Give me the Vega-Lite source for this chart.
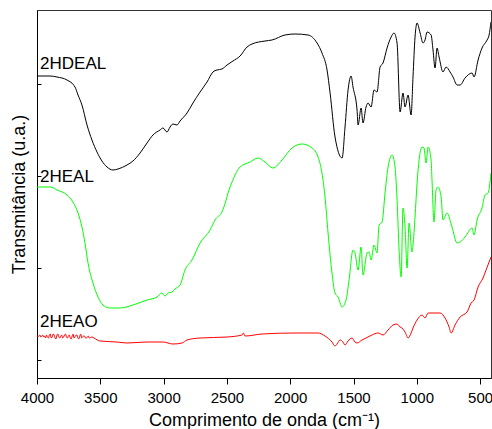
{
  "$schema": "https://vega.github.io/schema/vega-lite/v6.json",
  "width": 454,
  "height": 368,
  "autosize": {"type": "none"},
  "padding": {"left": 37, "top": 10, "right": 1, "bottom": 51},
  "background": "white",
  "config": {
    "font": "Liberation Sans",
    "view": {"stroke": "#333333", "strokeWidth": 1},
    "axis": {"grid": false, "domainColor": "#000000", "tickColor": "#000000", "labelColor": "#000000", "titleColor": "#000000", "labelFont": "Liberation Sans", "titleFont": "Liberation Sans", "titleFontWeight": "normal"}
  },
  "datasets": {
    "spectra": [
      {"series":"2HDEAL","wn":4000,"T":302},{"series":"2HDEAL","wn":3897,"T":302},{"series":"2HDEAL","wn":3842,"T":301},{"series":"2HDEAL","wn":3763,"T":298},{"series":"2HDEAL","wn":3700,"T":291},{"series":"2HDEAL","wn":3676,"T":283},{"series":"2HDEAL","wn":3645,"T":273},{"series":"2HDEAL","wn":3605,"T":253},{"series":"2HDEAL","wn":3566,"T":238},{"series":"2HDEAL","wn":3526,"T":226},{"series":"2HDEAL","wn":3487,"T":217},{"series":"2HDEAL","wn":3447,"T":211},{"series":"2HDEAL","wn":3400,"T":208},{"series":"2HDEAL","wn":3360,"T":209},{"series":"2HDEAL","wn":3289,"T":213},{"series":"2HDEAL","wn":3242,"T":217},{"series":"2HDEAL","wn":3186,"T":225},{"series":"2HDEAL","wn":3131,"T":235},{"series":"2HDEAL","wn":3084,"T":243},{"series":"2HDEAL","wn":3028,"T":248},{"series":"2HDEAL","wn":3005,"T":250},{"series":"2HDEAL","wn":2973,"T":246},{"series":"2HDEAL","wn":2949,"T":251},{"series":"2HDEAL","wn":2926,"T":254},{"series":"2HDEAL","wn":2894,"T":253},{"series":"2HDEAL","wn":2870,"T":257},{"series":"2HDEAL","wn":2815,"T":265},{"series":"2HDEAL","wn":2768,"T":275},{"series":"2HDEAL","wn":2712,"T":286},{"series":"2HDEAL","wn":2657,"T":296},{"series":"2HDEAL","wn":2610,"T":306},{"series":"2HDEAL","wn":2578,"T":308},{"series":"2HDEAL","wn":2539,"T":309},{"series":"2HDEAL","wn":2499,"T":313},{"series":"2HDEAL","wn":2452,"T":317},{"series":"2HDEAL","wn":2396,"T":322},{"series":"2HDEAL","wn":2341,"T":331},{"series":"2HDEAL","wn":2302,"T":334},{"series":"2HDEAL","wn":2199,"T":337},{"series":"2HDEAL","wn":2144,"T":338},{"series":"2HDEAL","wn":2041,"T":343},{"series":"2HDEAL","wn":1962,"T":344},{"series":"2HDEAL","wn":1859,"T":343},{"series":"2HDEAL","wn":1788,"T":335},{"series":"2HDEAL","wn":1749,"T":325},{"series":"2HDEAL","wn":1709,"T":308},{"series":"2HDEAL","wn":1685,"T":285},{"series":"2HDEAL","wn":1646,"T":241},{"series":"2HDEAL","wn":1590,"T":220},{"series":"2HDEAL","wn":1567,"T":251},{"series":"2HDEAL","wn":1543,"T":288},{"series":"2HDEAL","wn":1519,"T":302},{"series":"2HDEAL","wn":1504,"T":291},{"series":"2HDEAL","wn":1472,"T":268},{"series":"2HDEAL","wn":1464,"T":253},{"series":"2HDEAL","wn":1440,"T":270},{"series":"2HDEAL","wn":1425,"T":255},{"series":"2HDEAL","wn":1401,"T":271},{"series":"2HDEAL","wn":1385,"T":275},{"series":"2HDEAL","wn":1361,"T":271},{"series":"2HDEAL","wn":1338,"T":288},{"series":"2HDEAL","wn":1314,"T":286},{"series":"2HDEAL","wn":1290,"T":311},{"series":"2HDEAL","wn":1267,"T":315},{"series":"2HDEAL","wn":1235,"T":330},{"series":"2HDEAL","wn":1203,"T":341},{"series":"2HDEAL","wn":1180,"T":345},{"series":"2HDEAL","wn":1156,"T":335},{"series":"2HDEAL","wn":1132,"T":266},{"series":"2HDEAL","wn":1109,"T":285},{"series":"2HDEAL","wn":1093,"T":271},{"series":"2HDEAL","wn":1069,"T":283},{"series":"2HDEAL","wn":1045,"T":263},{"series":"2HDEAL","wn":1030,"T":301},{"series":"2HDEAL","wn":1014,"T":341},{"series":"2HDEAL","wn":998,"T":355},{"series":"2HDEAL","wn":974,"T":345},{"series":"2HDEAL","wn":951,"T":335},{"series":"2HDEAL","wn":935,"T":338},{"series":"2HDEAL","wn":919,"T":346},{"series":"2HDEAL","wn":887,"T":343},{"series":"2HDEAL","wn":872,"T":328},{"series":"2HDEAL","wn":856,"T":310},{"series":"2HDEAL","wn":840,"T":330},{"series":"2HDEAL","wn":824,"T":321},{"series":"2HDEAL","wn":793,"T":306},{"series":"2HDEAL","wn":769,"T":311},{"series":"2HDEAL","wn":737,"T":306},{"series":"2HDEAL","wn":714,"T":301},{"series":"2HDEAL","wn":682,"T":293},{"series":"2HDEAL","wn":658,"T":293},{"series":"2HDEAL","wn":619,"T":300},{"series":"2HDEAL","wn":563,"T":305},{"series":"2HDEAL","wn":548,"T":301},{"series":"2HDEAL","wn":516,"T":318},{"series":"2HDEAL","wn":485,"T":330},{"series":"2HDEAL","wn":445,"T":338},{"series":"2HDEAL","wn":429,"T":343},{"series":"2HDEAL","wn":414,"T":356},
      {"series":"2HEAL","wn":4000,"T":191},{"series":"2HEAL","wn":3897,"T":191},{"series":"2HEAL","wn":3842,"T":188},{"series":"2HEAL","wn":3763,"T":183},{"series":"2HEAL","wn":3716,"T":176},{"series":"2HEAL","wn":3676,"T":165},{"series":"2HEAL","wn":3645,"T":151},{"series":"2HEAL","wn":3621,"T":135},{"series":"2HEAL","wn":3597,"T":115},{"series":"2HEAL","wn":3558,"T":95},{"series":"2HEAL","wn":3518,"T":81},{"series":"2HEAL","wn":3479,"T":73},{"series":"2HEAL","wn":3423,"T":70},{"series":"2HEAL","wn":3344,"T":70},{"series":"2HEAL","wn":3242,"T":73},{"series":"2HEAL","wn":3131,"T":78},{"series":"2HEAL","wn":3052,"T":81},{"series":"2HEAL","wn":3013,"T":85},{"series":"2HEAL","wn":2989,"T":82},{"series":"2HEAL","wn":2965,"T":85},{"series":"2HEAL","wn":2934,"T":86},{"series":"2HEAL","wn":2910,"T":89},{"series":"2HEAL","wn":2870,"T":93},{"series":"2HEAL","wn":2831,"T":108},{"series":"2HEAL","wn":2776,"T":118},{"series":"2HEAL","wn":2712,"T":135},{"series":"2HEAL","wn":2633,"T":148},{"series":"2HEAL","wn":2594,"T":158},{"series":"2HEAL","wn":2539,"T":166},{"series":"2HEAL","wn":2475,"T":191},{"series":"2HEAL","wn":2396,"T":211},{"series":"2HEAL","wn":2317,"T":216},{"series":"2HEAL","wn":2254,"T":220},{"series":"2HEAL","wn":2199,"T":216},{"series":"2HEAL","wn":2136,"T":210},{"series":"2HEAL","wn":2065,"T":218},{"series":"2HEAL","wn":1986,"T":230},{"series":"2HEAL","wn":1906,"T":234},{"series":"2HEAL","wn":1828,"T":230},{"series":"2HEAL","wn":1780,"T":221},{"series":"2HEAL","wn":1749,"T":205},{"series":"2HEAL","wn":1725,"T":181},{"series":"2HEAL","wn":1701,"T":145},{"series":"2HEAL","wn":1670,"T":105},{"series":"2HEAL","wn":1646,"T":85},{"series":"2HEAL","wn":1622,"T":81},{"series":"2HEAL","wn":1590,"T":71},{"series":"2HEAL","wn":1559,"T":78},{"series":"2HEAL","wn":1535,"T":98},{"series":"2HEAL","wn":1504,"T":128},{"series":"2HEAL","wn":1488,"T":125},{"series":"2HEAL","wn":1464,"T":108},{"series":"2HEAL","wn":1440,"T":131},{"series":"2HEAL","wn":1425,"T":103},{"series":"2HEAL","wn":1393,"T":125},{"series":"2HEAL","wn":1377,"T":126},{"series":"2HEAL","wn":1361,"T":118},{"series":"2HEAL","wn":1338,"T":133},{"series":"2HEAL","wn":1314,"T":125},{"series":"2HEAL","wn":1298,"T":153},{"series":"2HEAL","wn":1274,"T":156},{"series":"2HEAL","wn":1251,"T":185},{"series":"2HEAL","wn":1227,"T":211},{"series":"2HEAL","wn":1195,"T":223},{"series":"2HEAL","wn":1172,"T":211},{"series":"2HEAL","wn":1156,"T":178},{"series":"2HEAL","wn":1140,"T":128},{"series":"2HEAL","wn":1124,"T":101},{"series":"2HEAL","wn":1109,"T":170},{"series":"2HEAL","wn":1093,"T":151},{"series":"2HEAL","wn":1077,"T":110},{"series":"2HEAL","wn":1061,"T":155},{"series":"2HEAL","wn":1038,"T":126},{"series":"2HEAL","wn":1030,"T":133},{"series":"2HEAL","wn":1014,"T":161},{"series":"2HEAL","wn":998,"T":195},{"series":"2HEAL","wn":982,"T":218},{"series":"2HEAL","wn":959,"T":231},{"series":"2HEAL","wn":943,"T":230},{"series":"2HEAL","wn":927,"T":215},{"series":"2HEAL","wn":911,"T":231},{"series":"2HEAL","wn":887,"T":218},{"series":"2HEAL","wn":880,"T":198},{"series":"2HEAL","wn":864,"T":156},{"series":"2HEAL","wn":848,"T":188},{"series":"2HEAL","wn":832,"T":191},{"series":"2HEAL","wn":808,"T":181},{"series":"2HEAL","wn":793,"T":158},{"series":"2HEAL","wn":761,"T":165},{"series":"2HEAL","wn":722,"T":151},{"series":"2HEAL","wn":682,"T":135},{"series":"2HEAL","wn":658,"T":136},{"series":"2HEAL","wn":619,"T":141},{"series":"2HEAL","wn":563,"T":150},{"series":"2HEAL","wn":548,"T":143},{"series":"2HEAL","wn":524,"T":158},{"series":"2HEAL","wn":485,"T":170},{"series":"2HEAL","wn":461,"T":183},{"series":"2HEAL","wn":437,"T":185},{"series":"2HEAL","wn":414,"T":205},
      {"series":"2HEAO","wn":4000,"T":42},{"series":"2HEAO","wn":3992,"T":41},{"series":"2HEAO","wn":3985,"T":42},{"series":"2HEAO","wn":3977,"T":43},{"series":"2HEAO","wn":3970,"T":41},{"series":"2HEAO","wn":3962,"T":42},{"series":"2HEAO","wn":3955,"T":43},{"series":"2HEAO","wn":3947,"T":41},{"series":"2HEAO","wn":3940,"T":42},{"series":"2HEAO","wn":3932,"T":40},{"series":"2HEAO","wn":3925,"T":43},{"series":"2HEAO","wn":3917,"T":41},{"series":"2HEAO","wn":3910,"T":40},{"series":"2HEAO","wn":3902,"T":43},{"series":"2HEAO","wn":3895,"T":44},{"series":"2HEAO","wn":3887,"T":40},{"series":"2HEAO","wn":3880,"T":41},{"series":"2HEAO","wn":3872,"T":44},{"series":"2HEAO","wn":3865,"T":43},{"series":"2HEAO","wn":3857,"T":40},{"series":"2HEAO","wn":3850,"T":39},{"series":"2HEAO","wn":3842,"T":43},{"series":"2HEAO","wn":3835,"T":44},{"series":"2HEAO","wn":3827,"T":41},{"series":"2HEAO","wn":3820,"T":40},{"series":"2HEAO","wn":3812,"T":42},{"series":"2HEAO","wn":3805,"T":43},{"series":"2HEAO","wn":3797,"T":40},{"series":"2HEAO","wn":3790,"T":41},{"series":"2HEAO","wn":3782,"T":43},{"series":"2HEAO","wn":3775,"T":44},{"series":"2HEAO","wn":3767,"T":41},{"series":"2HEAO","wn":3760,"T":40},{"series":"2HEAO","wn":3752,"T":42},{"series":"2HEAO","wn":3745,"T":43},{"series":"2HEAO","wn":3737,"T":40},{"series":"2HEAO","wn":3730,"T":39},{"series":"2HEAO","wn":3722,"T":42},{"series":"2HEAO","wn":3715,"T":44},{"series":"2HEAO","wn":3707,"T":40},{"series":"2HEAO","wn":3700,"T":41},{"series":"2HEAO","wn":3692,"T":43},{"series":"2HEAO","wn":3685,"T":43},{"series":"2HEAO","wn":3677,"T":40},{"series":"2HEAO","wn":3670,"T":39},{"series":"2HEAO","wn":3662,"T":42},{"series":"2HEAO","wn":3655,"T":44},{"series":"2HEAO","wn":3647,"T":40},{"series":"2HEAO","wn":3640,"T":41},{"series":"2HEAO","wn":3632,"T":42},{"series":"2HEAO","wn":3625,"T":42},{"series":"2HEAO","wn":3617,"T":40},{"series":"2HEAO","wn":3610,"T":40},{"series":"2HEAO","wn":3602,"T":41},{"series":"2HEAO","wn":3595,"T":42},{"series":"2HEAO","wn":3587,"T":40},{"series":"2HEAO","wn":3580,"T":40},{"series":"2HEAO","wn":3572,"T":41},{"series":"2HEAO","wn":3565,"T":41},{"series":"2HEAO","wn":3550,"T":40},{"series":"2HEAO","wn":3502,"T":37},{"series":"2HEAO","wn":3368,"T":36},{"series":"2HEAO","wn":3289,"T":35},{"series":"2HEAO","wn":3131,"T":36},{"series":"2HEAO","wn":3005,"T":36},{"series":"2HEAO","wn":2926,"T":34},{"series":"2HEAO","wn":2855,"T":35},{"series":"2HEAO","wn":2815,"T":38},{"series":"2HEAO","wn":2712,"T":40},{"series":"2HEAO","wn":2499,"T":41},{"series":"2HEAO","wn":2380,"T":43},{"series":"2HEAO","wn":2370,"T":45},{"series":"2HEAO","wn":2357,"T":42},{"series":"2HEAO","wn":2222,"T":44},{"series":"2HEAO","wn":1962,"T":45},{"series":"2HEAO","wn":1780,"T":45},{"series":"2HEAO","wn":1725,"T":42},{"series":"2HEAO","wn":1670,"T":36},{"series":"2HEAO","wn":1646,"T":32},{"series":"2HEAO","wn":1630,"T":34},{"series":"2HEAO","wn":1606,"T":38},{"series":"2HEAO","wn":1583,"T":36},{"series":"2HEAO","wn":1567,"T":33},{"series":"2HEAO","wn":1543,"T":37},{"series":"2HEAO","wn":1512,"T":40},{"series":"2HEAO","wn":1488,"T":36},{"series":"2HEAO","wn":1472,"T":35},{"series":"2HEAO","wn":1433,"T":38},{"series":"2HEAO","wn":1401,"T":40},{"series":"2HEAO","wn":1354,"T":43},{"series":"2HEAO","wn":1306,"T":45},{"series":"2HEAO","wn":1267,"T":43},{"series":"2HEAO","wn":1227,"T":48},{"series":"2HEAO","wn":1188,"T":53},{"series":"2HEAO","wn":1156,"T":54},{"series":"2HEAO","wn":1132,"T":51},{"series":"2HEAO","wn":1117,"T":50},{"series":"2HEAO","wn":1093,"T":46},{"series":"2HEAO","wn":1069,"T":40},{"series":"2HEAO","wn":1045,"T":45},{"series":"2HEAO","wn":1030,"T":50},{"series":"2HEAO","wn":998,"T":58},{"series":"2HEAO","wn":959,"T":63},{"series":"2HEAO","wn":935,"T":60},{"series":"2HEAO","wn":911,"T":65},{"series":"2HEAO","wn":816,"T":65},{"series":"2HEAO","wn":777,"T":60},{"series":"2HEAO","wn":745,"T":51},{"series":"2HEAO","wn":729,"T":45},{"series":"2HEAO","wn":698,"T":53},{"series":"2HEAO","wn":658,"T":61},{"series":"2HEAO","wn":603,"T":66},{"series":"2HEAO","wn":571,"T":75},{"series":"2HEAO","wn":548,"T":78},{"series":"2HEAO","wn":516,"T":91},{"series":"2HEAO","wn":477,"T":100},{"series":"2HEAO","wn":453,"T":108},{"series":"2HEAO","wn":414,"T":121}
    ],
    "labels": [
      {"label": "2HDEAL", "wn": 3976, "T": 309},
      {"label": "2HEAL", "wn": 3976, "T": 196},
      {"label": "2HEAO", "wn": 3976, "T": 51}
    ]
  },
  "layer": [
    {
      "data": {"name": "spectra"},
      "mark": {"type": "line", "strokeWidth": 1, "clip": true, "interpolate": "monotone"},
      "encoding": {
        "x": {
          "field": "wn", "type": "quantitative",
          "scale": {"domain": [414, 4000], "reverse": true, "nice": false, "zero": false},
          "axis": {
            "title": "Comprimento de onda (cm⁻¹)",
            "titleFontSize": 18,
            "titlePadding": 6,
            "values": [4000, 3750, 3500, 3250, 3000, 2750, 2500, 2250, 2000, 1750, 1500, 1250, 1000, 750, 500],
            "format": "d",
            "labelExpr": "datum.value % 500 === 0 ? datum.label : ''",
            "labelFontSize": 15,
            "labelPadding": 6,
            "labelFlush": false,
            "labelOverlap": false,
            "tickSize": {"condition": {"test": "datum.value % 500 === 0", "value": 6}, "value": 4},
            "tickWidth": 1,
            "domainWidth": 1
          }
        },
        "y": {
          "field": "T", "type": "quantitative",
          "scale": {"domain": [0, 368], "nice": false, "zero": false},
          "axis": {
            "title": "Transmitância (u.a.)",
            "titleFontSize": 18,
            "titlePadding": 8,
            "values": [18, 110, 202, 294],
            "labels": false,
            "tickSize": -4,
            "domainWidth": 1
          }
        },
        "color": {
          "field": "series", "type": "nominal",
          "scale": {"domain": ["2HDEAL", "2HEAL", "2HEAO"], "range": ["#000000", "#00ff00", "#ff0000"]},
          "legend": null
        }
      }
    },
    {
      "data": {"name": "labels"},
      "mark": {"type": "text", "align": "left", "baseline": "alphabetic", "fontSize": 17, "font": "Liberation Sans", "color": "#000000"},
      "encoding": {
        "x": {"field": "wn", "type": "quantitative"},
        "y": {"field": "T", "type": "quantitative"},
        "text": {"field": "label"}
      }
    }
  ]
}
